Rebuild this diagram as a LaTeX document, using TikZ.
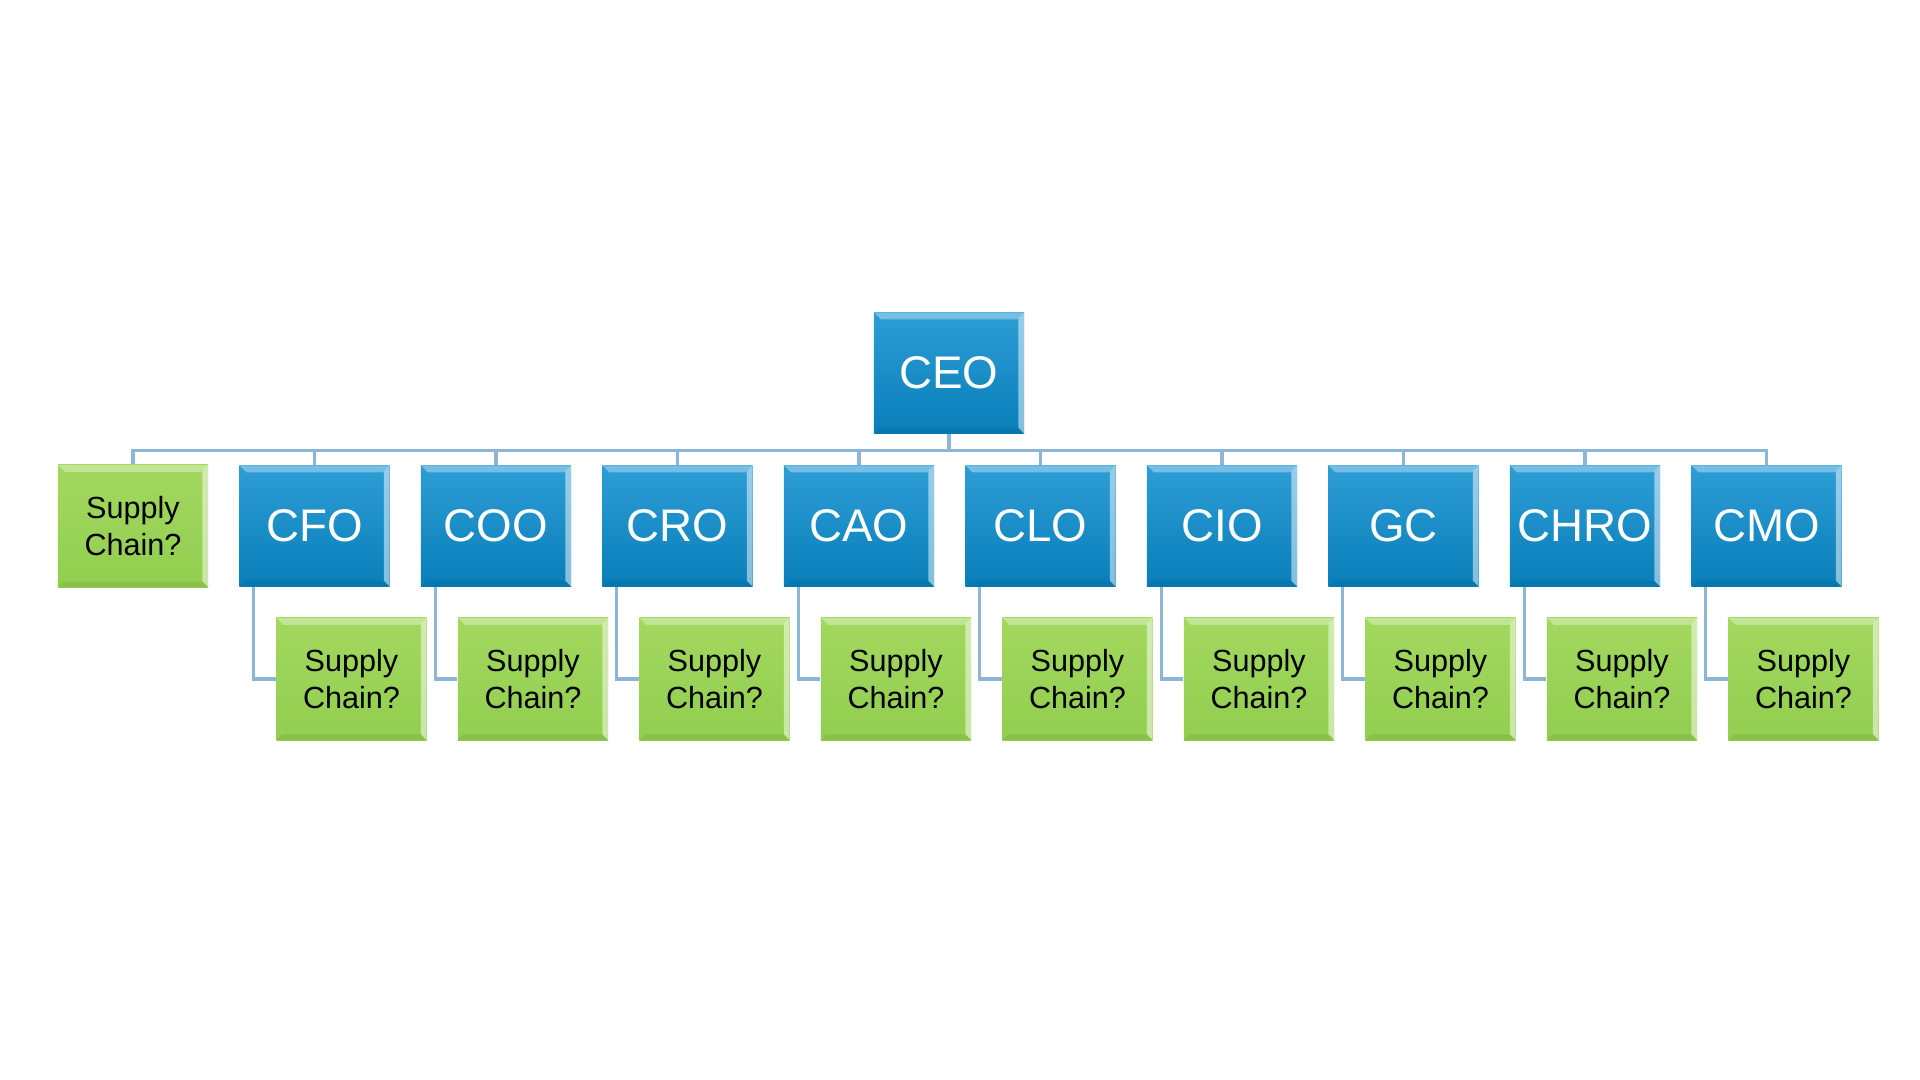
\documentclass[tikz,border=0pt]{standalone}
\usepackage{fontspec}
\setmainfont{Liberation Sans}
\usetikzlibrary{calc}

\definecolor{chiefTop}{RGB}{46,157,214}
\definecolor{chiefBot}{RGB}{8,126,185}
\definecolor{scTop}{RGB}{162,216,94}
\definecolor{scBot}{RGB}{146,206,80}
\definecolor{linkBlue}{RGB}{140,181,214}

\tikzset{
  bevel/.style={path picture={
    \fill[white,opacity=.35] (path picture bounding box.north west) -- (path picture bounding box.north east)
      -- ([shift={(-2pt,-2pt)}]path picture bounding box.north east) -- ([shift={(2pt,-2pt)}]path picture bounding box.north west) -- cycle;
    \fill[white,opacity=.5] (path picture bounding box.north east) -- (path picture bounding box.south east)
      -- ([shift={(-1.6pt,1.6pt)}]path picture bounding box.south east) -- ([shift={(-1.6pt,-1.6pt)}]path picture bounding box.north east) -- cycle;
    \fill[black,opacity=.06] (path picture bounding box.south west) -- (path picture bounding box.south east)
      -- ([shift={(-1.6pt,1.6pt)}]path picture bounding box.south east) -- ([shift={(1.6pt,1.6pt)}]path picture bounding box.south west) -- cycle;
  }},
  chief/.style={bevel, top color=chiefTop, bottom color=chiefBot, minimum width=1.5cm, minimum height=1.21cm,
    inner sep=0pt, text=white, font=\fontsize{13}{15}\selectfont},
  supply/.style={bevel, top color=scTop, bottom color=scBot, minimum width=1.5cm, minimum height=1.22cm,
    inner sep=0pt, align=center, font=\fontsize{8.7}{10.3}\selectfont},
  link/.style={draw=linkBlue, line width=0.9pt}
}

\begin{document}
\begin{tikzpicture}[x=0.01cm,y=-0.01cm]
  \useasboundingbox (0,0) rectangle (1920,1080);
  \pgfmathsetmacro{\p}{181.5}

  \node[chief] (ceo) at (949,373) {CEO};

  % the one that hangs straight off the CEO
  \node[supply] (sc0) at (133,526) {Supply\\Chain?};
  \draw[link] (ceo.south) -- ++(0,16) -| (sc0.north);

  \foreach \n/\t [count=\k] in {cfo/CFO,coo/COO,cro/CRO,cao/CAO,clo/CLO,cio/CIO,gc/GC,chro/CHRO,cmo/CMO}{
    \node[chief] (\n) at (133+\k*\p,526) {\t};
    \node[supply] (sc\k) at ($(\n)+(37,153)$) {Supply\\Chain?};
    \draw[link] (ceo.south) -- ++(0,16) -| (\n.north);
    \draw[link] ($(\n.south west)+(15,0)$) |- (sc\k.west);
  }
\end{tikzpicture}
\end{document}
